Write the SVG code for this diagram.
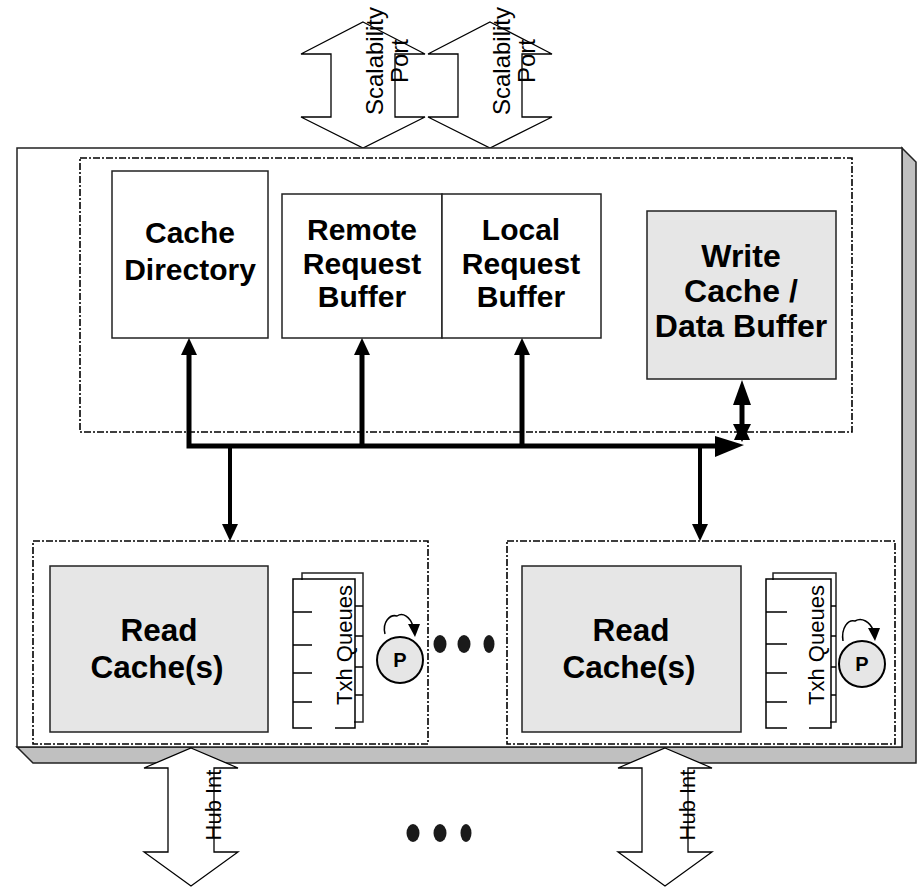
<svg xmlns="http://www.w3.org/2000/svg" width="918" height="887" viewBox="0 0 918 887">
  <style>
    .box { fill: #ffffff; stroke: #222222; stroke-width: 1.5; }
    .gbox { fill: #e6e6e6; stroke: #222222; stroke-width: 1.5; }
    .dash { fill: none; stroke: #000000; stroke-width: 1.6; stroke-dasharray: 7 2 2 2; }
    .port { fill: #ffffff; stroke: #000000; stroke-width: 1.3; }
    .lbl { font-family: "Liberation Sans", Arial, Helvetica, sans-serif; font-weight: bold; font-size: 30px; text-anchor: middle; fill: #000000; }
    .lbl-w { font-size: 32px; }
    .lbl-r { font-size: 31.5px; }
    .rot { font-family: "Liberation Sans", Arial, Helvetica, sans-serif; font-size: 22px; text-anchor: middle; fill: #000000; }
    .rot-l { font-size: 24px; }
    .p { font-family: "Liberation Sans", Arial, Helvetica, sans-serif; font-weight: bold; font-size: 20px; text-anchor: middle; fill: #000000; }
    .bus { fill: none; stroke: #000000; stroke-width: 5; }
    .drop { fill: none; stroke: #000000; stroke-width: 4; }
    .head { fill: #000000; stroke: none; }
    .thin { fill: none; stroke: #000000; stroke-width: 1.5; }
    .dot { fill: #1a1a1a; }
  </style>

  <!-- scalability ports (drawn first, they sit on the chassis top edge) -->
  <g id="scalability-port-1">
    <path class="port" d="M363,22 L425,54 L395,54 L395,117 L425,117 L363,148 L301,117 L331,117 L331,54 L301,54 Z"/>
    <text class="rot rot-l" transform="translate(383,61) rotate(-90)">Scalability</text>
    <text class="rot rot-l" transform="translate(408,61) rotate(-90)">Port</text>
  </g>
  <g id="scalability-port-2">
    <path class="port" d="M490,22 L552,54 L522,54 L522,117 L552,117 L490,148 L428,117 L458,117 L458,54 L428,54 Z"/>
    <text class="rot rot-l" transform="translate(510,61) rotate(-90)">Scalability</text>
    <text class="rot rot-l" transform="translate(535,61) rotate(-90)">Port</text>
  </g>

  <!-- chassis with 3D edge -->
  <g id="chassis">
    <polygon points="902,148 916,162 916,763 33,763 17,747 902,747" fill="#c0c0c0" stroke="#222222" stroke-width="1.5"/>
    <rect x="17" y="148" width="885" height="599" class="box"/>
  </g>

  <!-- coherency block -->
  <g id="coherency-block">
    <rect x="80" y="158" width="772" height="274" class="dash"/>
  </g>

  <g id="cache-directory">
    <rect x="112" y="171" width="156" height="167" class="box"/>
    <text class="lbl" x="190" y="243">Cache</text>
    <text class="lbl" x="190" y="280">Directory</text>
  </g>

  <g id="remote-request-buffer">
    <rect x="282" y="194" width="160" height="144" class="box"/>
    <text class="lbl" x="362" y="240">Remote</text>
    <text class="lbl" x="362" y="274">Request</text>
    <text class="lbl" x="362" y="307">Buffer</text>
  </g>

  <g id="local-request-buffer">
    <rect x="442" y="194" width="159" height="144" class="box"/>
    <text class="lbl" x="521" y="240">Local</text>
    <text class="lbl" x="521" y="274">Request</text>
    <text class="lbl" x="521" y="307">Buffer</text>
  </g>

  <g id="write-cache">
    <rect x="647" y="211" width="189" height="168" class="gbox"/>
    <text class="lbl lbl-w" x="741" y="267">Write</text>
    <text class="lbl lbl-w" x="741" y="302">Cache /</text>
    <text class="lbl lbl-w" x="741" y="337">Data Buffer</text>
  </g>

  <!-- processor-side groups -->
  <g id="read-cache-group-1">
    <rect x="33" y="541" width="395" height="203" class="dash"/>
    <rect x="50" y="566" width="218" height="166" class="gbox"/>
    <text class="lbl lbl-r" x="159" y="641">Read</text>
    <text class="lbl lbl-r" x="157" y="678">Cache(s)</text>
  </g>
  <g id="txh-queues-1">
    <rect x="302" y="573" width="61" height="149" class="box" stroke-width="1.3"/>
    <rect x="294" y="580" width="60" height="147" fill="#ffffff"/>
    <path class="thin" d="M312,728 L293,728 L293,579 L355,579 L355,728 L335,728"/>
    <path class="thin" d="M293,612 H312 M293,645 H312 M293,673 H312 M293,702 H312"/>
    <path class="thin" d="M355,606 H363 M355,636 H363 M355,667 H363 M355,695 H363"/>
    <text class="rot" transform="translate(352,645) rotate(-90)">Txh Queues</text>
  </g>
  <g id="processor-1">
    <circle cx="400" cy="660" r="23" fill="#e6e6e6" stroke="#000000" stroke-width="2"/>
    <text class="p" x="400" y="667">P</text>
    <path class="thin" d="M385,634 C382,622 390,614 397,616 C403,612 410,617 413,626"/>
    <polygon class="head" points="408,624 420,624 415,637"/>
  </g>

  <g id="read-cache-group-2">
    <rect x="507" y="541" width="388" height="203" class="dash"/>
    <rect x="522" y="566" width="219" height="166" class="gbox"/>
    <text class="lbl lbl-r" x="631" y="641">Read</text>
    <text class="lbl lbl-r" x="629" y="678">Cache(s)</text>
  </g>
  <g id="txh-queues-2">
    <rect x="773" y="573" width="63" height="149" class="box" stroke-width="1.3"/>
    <rect x="767" y="580" width="63" height="147" fill="#ffffff"/>
    <path class="thin" d="M787,728 L766,728 L766,579 L831,579 L831,728 L809,728"/>
    <path class="thin" d="M766,612 H787 M766,644 H787 M766,673 H787 M766,702 H787"/>
    <path class="thin" d="M831,606 H836 M831,636 H836 M831,667 H836 M831,695 H836"/>
    <text class="rot" transform="translate(824,645) rotate(-90)">Txh Queues</text>
  </g>
  <g id="processor-2">
    <circle cx="862" cy="664" r="23" fill="#e6e6e6" stroke="#000000" stroke-width="2"/>
    <text class="p" x="862" y="671">P</text>
    <path class="thin" d="M843,641 C841,628 848,619 855,621 C862,617 870,622 873,630"/>
    <polygon class="head" points="868,628 880,628 875,641"/>
  </g>

  <!-- more groups in between -->
  <g id="ellipsis-groups">
    <ellipse class="dot" cx="440" cy="644" rx="6.5" ry="9"/>
    <ellipse class="dot" cx="464" cy="644" rx="6.5" ry="9"/>
    <ellipse class="dot" cx="489" cy="644" rx="5.5" ry="9"/>
  </g>

  <!-- hub interfaces -->
  <g id="hub-int-1">
    <path class="port" d="M191,748 L238,768 L214,768 L214,852 L238,852 L191,886 L144,852 L168,852 L168,768 L144,768 Z"/>
    <text class="rot" transform="translate(221,805) rotate(-90)">Hub Int</text>
  </g>
  <g id="hub-int-2">
    <path class="port" d="M665,748 L712,768 L688,768 L688,852 L712,852 L665,886 L618,852 L642,852 L642,768 L618,768 Z"/>
    <text class="rot" transform="translate(695,805) rotate(-90)">Hub Int</text>
  </g>
  <g id="ellipsis-hubs">
    <ellipse class="dot" cx="413" cy="833" rx="6.5" ry="9"/>
    <ellipse class="dot" cx="440" cy="833" rx="6.5" ry="9"/>
    <ellipse class="dot" cx="466" cy="833" rx="5.5" ry="9"/>
  </g>

  <!-- internal bus and connectors -->
  <g id="connectors">
    <path class="bus" d="M189,354 L189,446 L717,446"/>
    <polygon class="head" points="189,338 181,355 197,355"/>
    <path class="bus" d="M362,446 L362,354"/>
    <polygon class="head" points="362,338 354,355 370,355"/>
    <path class="bus" d="M522,446 L522,354"/>
    <polygon class="head" points="522,338 514,355 530,355"/>
    <polygon class="head" points="715,436 715,457 744,445"/>
    <path class="bus" d="M742,403 L742,426"/>
    <polygon class="head" points="742,380 733,405 751,405"/>
    <polygon class="head" points="742,442 733,424 751,424"/>
    <polygon class="head" points="742,422 734,440 750,440"/>
    <path class="drop" d="M230,446 L230,525"/>
    <polygon class="head" points="230,541 222,524 238,524"/>
    <path class="drop" d="M700,446 L700,525"/>
    <polygon class="head" points="700,541 692,524 708,524"/>
  </g>
</svg>
